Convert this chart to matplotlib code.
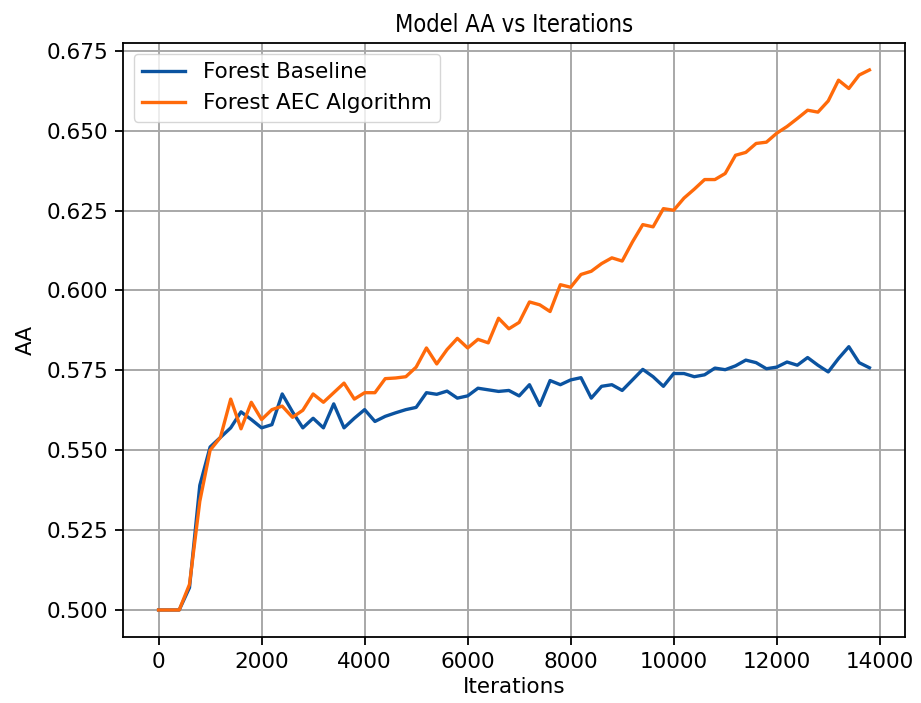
import matplotlib.pyplot as plt

# iterations: un point tous les 200
iterations = list(range(0, 14000, 200))

# valeurs AA
aa_baseline = [0.500, 0.500, 0.500, 0.507, 0.539, 0.551, 0.554, 0.557, 0.562, 0.5596,
               0.557, 0.558, 0.5676, 0.562, 0.557, 0.560, 0.557, 0.5645, 0.557, 0.560,
               0.5627, 0.559, 0.5606, 0.5617, 0.5627, 0.5634, 0.568, 0.5675, 0.5685, 0.5663,
               0.567, 0.5694, 0.5689, 0.5684, 0.5687, 0.567, 0.5705, 0.564, 0.5718, 0.5705,
               0.572, 0.5727, 0.5663, 0.570, 0.5705, 0.5687, 0.572, 0.5753, 0.573, 0.570,
               0.574, 0.574, 0.573, 0.5736, 0.5757, 0.5752, 0.5764, 0.5782, 0.5774, 0.5755,
               0.576, 0.5776, 0.5766, 0.579, 0.5766, 0.5745, 0.5787, 0.5824, 0.5774, 0.5758]

aa_aec = [0.500, 0.500, 0.500, 0.508, 0.534, 0.550, 0.554, 0.566, 0.5567, 0.565,
          0.5596, 0.5627, 0.5638, 0.5603, 0.5625, 0.5676, 0.565, 0.568, 0.571, 0.566,
          0.568, 0.568, 0.5724, 0.5726, 0.573, 0.576, 0.582, 0.577, 0.5815, 0.585,
          0.582, 0.5847, 0.5836, 0.5913, 0.588, 0.590, 0.5964, 0.5955, 0.5934, 0.6018,
          0.601, 0.605, 0.606, 0.6084, 0.6102, 0.6092, 0.6152, 0.6206, 0.6199, 0.6256,
          0.6251, 0.6289, 0.6317, 0.6347, 0.6347, 0.6366, 0.6423, 0.6432, 0.646, 0.6464,
          0.6492, 0.6513, 0.6538, 0.6564, 0.6558, 0.6593, 0.6658, 0.6632, 0.6674, 0.669]

# style: tout un peu agrandi comme sur l'original
plt.rcParams['font.size'] = 15.5
plt.rcParams['axes.linewidth'] = 1.3
for axe in ['xtick', 'ytick']:
    plt.rcParams[axe + '.major.size'] = 5.5
    plt.rcParams[axe + '.major.width'] = 1.3
    plt.rcParams[axe + '.major.pad'] = 5

fig = plt.figure(figsize=(9.21, 7.03), dpi=100)
ax = fig.add_axes([0.1336, 0.0939, 0.849, 0.845])

ax.plot(iterations, aa_baseline, color='#0b53a0', linewidth=2.4, label='Forest Baseline')
ax.plot(iterations, aa_aec, color='#ff6a0a', linewidth=2.4, label='Forest AEC Algorithm')

# titres et axes (titre un peu plus haut et étroit)
ax.set_title('Model AA vs Iterations', fontsize=17, fontstretch='condensed', pad=8)
ax.set_xlabel('Iterations', labelpad=4)
ax.set_ylabel('AA', labelpad=8)
ax.set_xticks(range(0, 14001, 2000))
ax.set_yticks([0.500, 0.525, 0.550, 0.575, 0.600, 0.625, 0.650, 0.675])
ax.grid(True, color='#a8a8a8', linewidth=1.4)
ax.legend(loc='upper left')

plt.savefig('out.png', dpi=100)
